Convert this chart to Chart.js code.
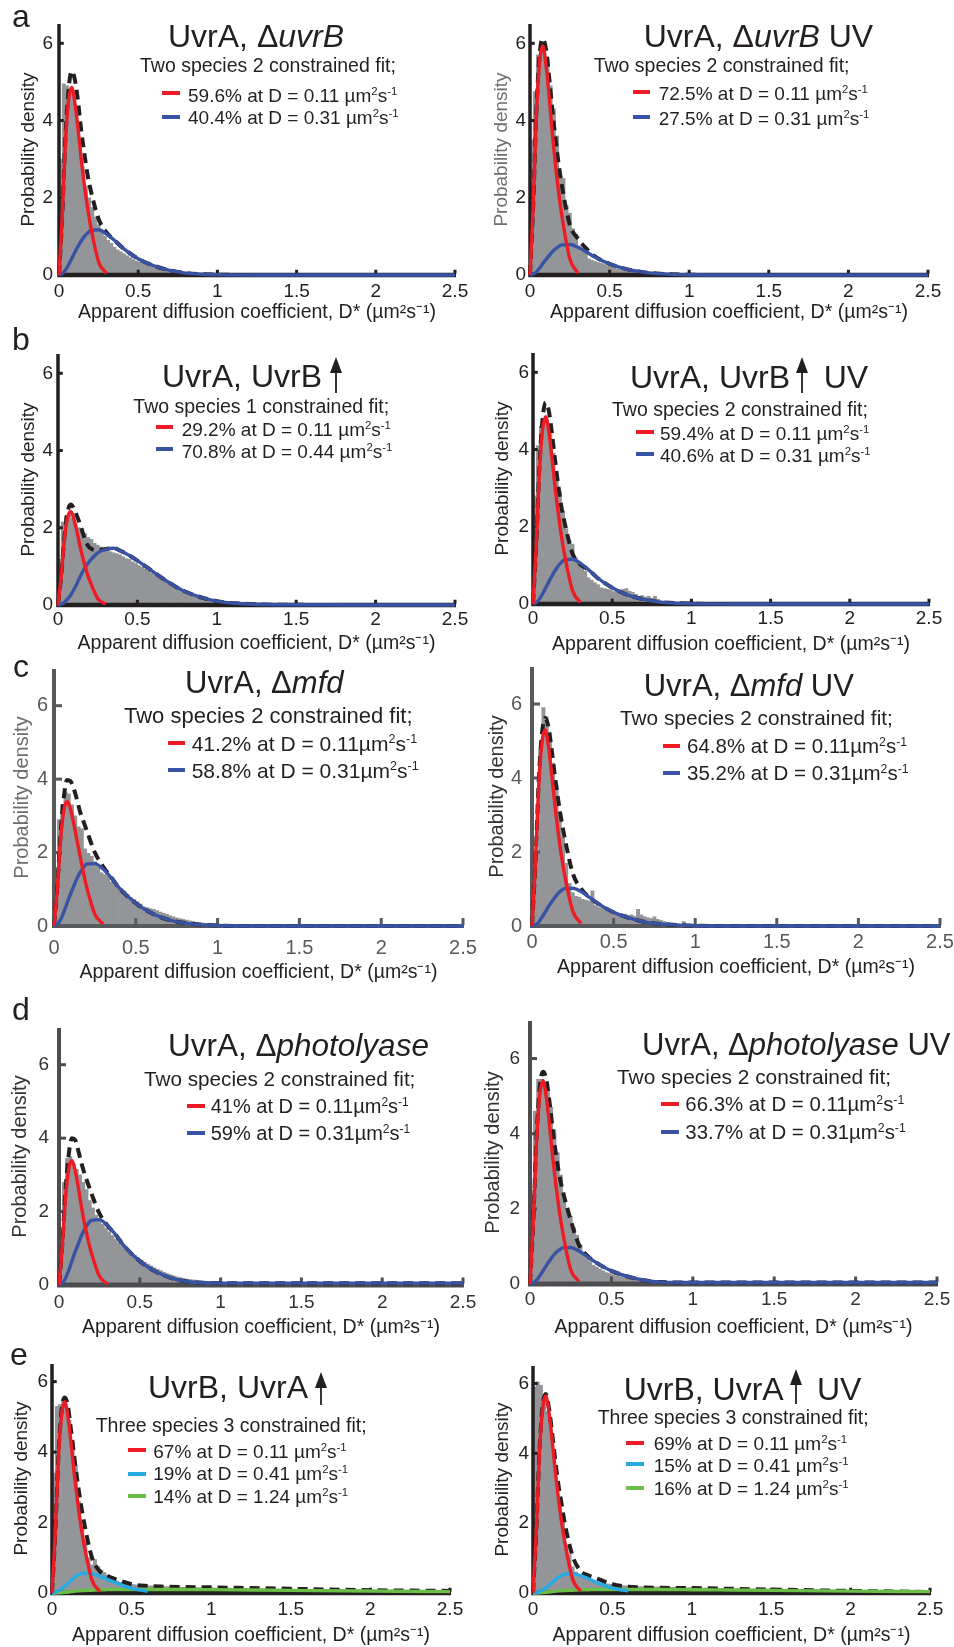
<!DOCTYPE html>
<html>
<head>
<meta charset="utf-8">
<script src="https://cdn.jsdelivr.net/npm/chart.js@4.4.1/dist/chart.umd.min.js"></script>
<style>
  body { margin: 0; background: #fff; width: 954px; height: 1647px; position: relative; overflow: hidden;
         font-family: 'Liberation Sans', Arial, Helvetica, sans-serif; color: #231f20; }
  canvas { position: absolute; }
  .t { position: absolute; white-space: nowrap; line-height: 1; }
  .t sup { font-size: 0.6em; vertical-align: 0.6em; line-height: 0; }
  .key { position: absolute; height: 4px; }
  svg.arrow { position: absolute; }
</style>
</head>
<body>
<script>
// ---- data ----
const binWidth = 0.02;
const curveX = [0, 0.02, 0.04, 0.06, 0.08, 0.1, 0.12, 0.14, 0.16, 0.18, 0.2, 0.25, 0.3, 0.35, 0.4, 0.5, 0.6, 0.7, 0.8, 1.0, 1.25, 1.5, 2.0, 2.5];
const xTicks = [0, 0.5, 1, 1.5, 2, 2.5];
const yTicks = [0, 2, 4, 6];

// a, UvrA ΔuvrB
const aLeftHist = [3.0, 4.95, 4.9, 4.85, 4.6, 4.0, 3.3, 2.8, 2.3, 2.0, 1.75, 1.5, 1.3, 1.15, 1.0, 0.9, 0.82, 0.72, 0.65, 0.6, 0.55, 0.5, 0.45, 0.4, 0.36, 0.33, 0.3, 0.27, 0.24, 0.22, 0.19, 0.17, 0.15, 0.13, 0.11, 0.1, 0.09, 0.08, 0.07, 0.06, 0.05, 0.045, 0.04, 0.035, 0.03, 0.025, 0.02, 0.02, 0.018, 0.015, 0.012, 0.01, 0.01, 0.008, 0.006, 0.005];
const aLeftRed = [0, 1.46, 3.4, 4.52, 4.86, 4.47, 3.79, 3.01, 2.33, 1.75, 1.26, 0.34, 0.04];
const aLeftBlue = [0, 0.035, 0.12, 0.26, 0.42, 0.59, 0.74, 0.88, 1.0, 1.09, 1.15, 1.17, 1.06, 0.9, 0.71, 0.42, 0.24, 0.12, 0.05, 0.01, 0, 0, 0, 0];
const aLeftFit = [0, 1.5, 3.52, 4.78, 5.28, 5.06, 4.5, 3.75, 3.15, 2.6, 2.2, 1.45, 1.1, 0.9, 0.71, 0.42, 0.24, 0.12, 0.05, 0.01, 0, 0, 0, 0];

// a, UvrA ΔuvrB UV
const aRightHist = [3.5, 4.75, 5.7, 5.9, 6.0, 5.6, 4.9, 4.3, 3.6, 2.6, 2.5, 1.8, 1.6, 1.2, 1.05, 0.75, 0.7, 0.6, 0.42, 0.38, 0.35, 0.32, 0.3, 0.27, 0.24, 0.21, 0.18, 0.16, 0.14, 0.12, 0.1, 0.09, 0.08, 0.07, 0.06, 0.05, 0.045, 0.04, 0.035, 0.03, 0.025, 0.02, 0.02, 0.015, 0.015, 0.01, 0.01, 0.01, 0.008, 0.006];
const aRightRed = [0, 1.78, 4.15, 5.51, 5.93, 5.46, 4.63, 3.68, 2.85, 2.13, 1.54, 0.42, 0.05];
const aRightBlue = [0, 0.024, 0.08, 0.18, 0.29, 0.4, 0.5, 0.6, 0.68, 0.74, 0.78, 0.79, 0.72, 0.61, 0.48, 0.29, 0.16, 0.08, 0.036, 0.006, 0, 0, 0, 0];
const aRightFit = [0, 1.8, 4.23, 5.69, 6.12, 5.86, 5.13, 4.28, 3.53, 2.87, 2.32, 1.3, 0.95, 0.7, 0.5, 0.29, 0.16, 0.08, 0.036, 0.006, 0, 0, 0, 0];

// b, UvrA UvrB up
const bLeftHist = [1.2, 2.15, 2.3, 2.35, 2.25, 2.1, 2.0, 1.95, 1.85, 1.75, 1.7, 1.6, 1.55, 1.5, 1.45, 1.4, 1.38, 1.35, 1.33, 1.3, 1.25, 1.2, 1.18, 1.12, 1.08, 1.02, 0.98, 0.93, 0.88, 0.82, 0.78, 0.72, 0.68, 0.62, 0.57, 0.52, 0.47, 0.42, 0.38, 0.34, 0.3, 0.26, 0.23, 0.2, 0.17, 0.15, 0.13, 0.11, 0.1, 0.085, 0.07, 0.06, 0.05, 0.045, 0.04, 0.035, 0.03, 0.025, 0.02, 0.02, 0.015, 0.015, 0.01, 0.01, 0.01];
const bLeftRed = [0, 0.73, 1.69, 2.25, 2.42, 2.23, 1.89, 1.5, 1.16, 0.87, 0.63, 0.17, 0.02];
const bLeftBlue = [0, 0.02, 0.07, 0.15, 0.26, 0.4, 0.56, 0.74, 0.9, 1.03, 1.14, 1.35, 1.44, 1.47, 1.39, 1.15, 0.86, 0.58, 0.35, 0.1, 0.02, 0.005, 0, 0];
const bLeftFit = [0, 0.75, 1.75, 2.4, 2.6, 2.5, 2.3, 2.08, 1.82, 1.6, 1.48, 1.42, 1.45, 1.47, 1.39, 1.15, 0.86, 0.58, 0.35, 0.1, 0.02, 0.005, 0, 0];

// b, UvrA UvrB up UV
const bRightHist = [2.8, 4.1, 4.6, 4.75, 4.7, 4.4, 3.9, 3.3, 2.9, 2.4, 1.95, 1.65, 1.55, 1.2, 1.1, 0.92, 0.85, 0.68, 0.62, 0.55, 0.5, 0.42, 0.4, 0.38, 0.36, 0.32, 0.35, 0.3, 0.38, 0.4, 0.33, 0.3, 0.25, 0.2, 0.22, 0.18, 0.2, 0.15, 0.2, 0.12, 0.08, 0.06, 0.07, 0.05, 0.04, 0.03, 0.05, 0.03, 0.02, 0.03, 0.05, 0.02, 0.01, 0.02, 0.01, 0.01];
const bRightRed = [0, 1.46, 3.4, 4.51, 4.85, 4.46, 3.78, 3.0, 2.33, 1.75, 1.26, 0.34, 0.04];
const bRightBlue = [0, 0.035, 0.12, 0.26, 0.42, 0.58, 0.73, 0.87, 0.99, 1.08, 1.14, 1.16, 1.05, 0.89, 0.7, 0.42, 0.23, 0.12, 0.05, 0.01, 0, 0, 0, 0];
const bRightFit = [0, 1.5, 3.52, 4.77, 5.22, 5.0, 4.4, 3.7, 3.05, 2.5, 2.1, 1.3, 1.02, 0.89, 0.7, 0.42, 0.23, 0.12, 0.05, 0.01, 0, 0, 0, 0];

// c, UvrA Δmfd
const cLeftHist = [1.6, 2.9, 3.3, 3.65, 3.6, 3.3, 3.0, 2.7, 2.65, 2.1, 1.98, 1.9, 1.75, 1.6, 1.45, 1.4, 1.35, 1.2, 1.12, 1.08, 1.02, 0.95, 0.85, 0.78, 0.72, 0.66, 0.6, 0.52, 0.5, 0.47, 0.45, 0.42, 0.38, 0.35, 0.32, 0.28, 0.25, 0.22, 0.2, 0.18, 0.16, 0.14, 0.12, 0.1, 0.09, 0.08, 0.07, 0.06, 0.05, 0.04, 0.035, 0.03, 0.025, 0.02, 0.02, 0.015, 0.01, 0.01];
const cLeftRed = [0, 1.0, 2.35, 3.15, 3.39, 3.2, 2.8, 2.35, 1.9, 1.45, 1.05, 0.32, 0.05];
const cLeftBlue = [0, 0.05, 0.17, 0.38, 0.62, 0.86, 1.08, 1.29, 1.46, 1.6, 1.69, 1.7, 1.55, 1.31, 1.03, 0.62, 0.34, 0.17, 0.08, 0.014, 0, 0, 0, 0];
const cLeftFit = [0, 1.05, 2.5, 3.5, 3.98, 3.95, 3.75, 3.45, 3.1, 2.85, 2.6, 2.0, 1.62, 1.32, 1.03, 0.62, 0.34, 0.17, 0.08, 0.014, 0, 0, 0, 0];

// c, UvrA Δmfd UV
const cRightHist = [0.6, 2.0, 4.75, 5.9, 5.65, 5.1, 4.4, 3.8, 3.1, 2.4, 1.7, 1.15, 0.9, 0.8, 0.78, 0.72, 0.7, 0.68, 0.95, 0.55, 0.5, 0.48, 0.45, 0.42, 0.38, 0.36, 0.34, 0.3, 0.32, 0.28, 0.3, 0.26, 0.45, 0.3, 0.25, 0.22, 0.2, 0.25, 0.18, 0.15, 0.12, 0.1, 0.08, 0.06, 0.05, 0.04, 0.12, 0.03, 0.02, 0.02, 0.01, 0.02, 0.01, 0.01];
const cRightRed = [0, 1.59, 3.71, 4.93, 5.3, 4.88, 4.13, 3.29, 2.54, 1.91, 1.38, 0.4, 0.07];
const cRightBlue = [0, 0.03, 0.1, 0.23, 0.37, 0.52, 0.65, 0.77, 0.88, 0.96, 1.01, 1.02, 0.93, 0.78, 0.62, 0.37, 0.21, 0.1, 0.05, 0.008, 0, 0, 0, 0];
const cRightFit = [0, 1.62, 3.81, 5.16, 5.62, 5.4, 4.78, 4.06, 3.42, 2.87, 2.39, 1.42, 1.01, 0.78, 0.62, 0.37, 0.21, 0.1, 0.05, 0.008, 0, 0, 0, 0];

// d, UvrA Δphotolyase
const dLeftHist = [1.3, 2.8, 3.45, 3.5, 3.3, 3.15, 3.0, 2.8, 2.6, 2.3, 2.1, 1.9, 1.8, 1.65, 1.55, 1.45, 1.35, 1.25, 1.15, 1.08, 1.0, 0.93, 0.86, 0.8, 0.74, 0.68, 0.62, 0.57, 0.52, 0.47, 0.43, 0.39, 0.35, 0.31, 0.28, 0.25, 0.22, 0.2, 0.18, 0.16, 0.15, 0.14, 0.13, 0.12, 0.11, 0.1, 0.1, 0.09, 0.09, 0.08, 0.08, 0.07, 0.07, 0.07, 0.06, 0.06, 0.06, 0.05, 0.05, 0.05, 0.05, 0.04, 0.04, 0.04, 0.04, 0.04, 0.03, 0.03, 0.03, 0.03, 0.03, 0.03, 0.03, 0.03, 0.03];
const dLeftRed = [0, 1.02, 2.37, 3.15, 3.39, 3.12, 2.64, 2.1, 1.63, 1.22, 0.88, 0.24, 0.03];
const dLeftBlue = [0, 0.05, 0.18, 0.4, 0.65, 0.9, 1.13, 1.35, 1.53, 1.67, 1.76, 1.78, 1.62, 1.37, 1.08, 0.65, 0.36, 0.18, 0.09, 0.05, 0.05, 0.05, 0.05, 0.05];
const dLeftFit = [0, 1.07, 2.55, 3.55, 4.0, 3.95, 3.65, 3.3, 3.0, 2.75, 2.5, 1.95, 1.62, 1.37, 1.08, 0.65, 0.36, 0.18, 0.09, 0.05, 0.05, 0.05, 0.05, 0.05];

// d, UvrA Δphotolyase UV
const dRightHist = [2.5, 4.6, 5.45, 5.45, 5.3, 5.1, 4.7, 4.1, 3.5, 2.9, 2.3, 2.0, 1.8, 1.5, 1.3, 1.05, 0.85, 0.75, 0.6, 0.5, 0.45, 0.4, 0.35, 0.3, 0.28, 0.25, 0.22, 0.2, 0.18, 0.16, 0.14, 0.12, 0.11, 0.1, 0.09, 0.08, 0.07, 0.06, 0.05, 0.05, 0.04, 0.04, 0.03, 0.03, 0.02, 0.02, 0.02, 0.01, 0.01, 0.01];
const dRightRed = [0, 1.62, 3.79, 5.03, 5.41, 4.98, 4.22, 3.35, 2.6, 1.95, 1.41, 0.38, 0.07];
const dRightBlue = [0, 0.03, 0.1, 0.22, 0.35, 0.49, 0.62, 0.74, 0.84, 0.91, 0.96, 0.97, 0.88, 0.74, 0.59, 0.35, 0.2, 0.1, 0.05, 0.04, 0.04, 0.04, 0.04, 0.04];
const dRightFit = [0, 1.65, 3.89, 5.25, 5.65, 5.45, 4.84, 4.09, 3.44, 2.9, 2.5, 1.7, 1.05, 0.76, 0.59, 0.35, 0.2, 0.1, 0.05, 0.04, 0.04, 0.04, 0.04, 0.04];

// e, UvrB UvrA up
const eLeftHist = [3.4, 5.3, 5.35, 5.45, 5.3, 4.9, 4.3, 3.6, 2.6, 1.9, 1.5, 1.0, 0.8, 0.95, 0.75, 0.65, 0.58, 0.5, 0.42, 0.38, 0.34, 0.3, 0.28, 0.27, 0.26,
  0.24, 0.23, 0.22, 0.22, 0.21, 0.2, 0.2, 0.19, 0.19, 0.18, 0.18, 0.18, 0.17, 0.17, 0.17, 0.16, 0.16, 0.16, 0.16, 0.15, 0.15, 0.15, 0.15, 0.15, 0.15,
  0.14, 0.14, 0.14, 0.14, 0.14, 0.14, 0.13, 0.13, 0.13, 0.13, 0.13, 0.13, 0.12, 0.12, 0.12, 0.12, 0.12, 0.12, 0.11, 0.11, 0.11, 0.11, 0.11, 0.11, 0.11,
  0.1, 0.1, 0.1, 0.1, 0.1, 0.1, 0.1, 0.1, 0.09, 0.09, 0.09, 0.09, 0.09, 0.09, 0.09, 0.09, 0.08, 0.08, 0.08, 0.08, 0.08, 0.08, 0.08, 0.08, 0.08,
  0.07, 0.07, 0.07, 0.07, 0.07, 0.07, 0.07, 0.07, 0.07, 0.07, 0.07, 0.06, 0.06, 0.06, 0.06, 0.06, 0.06, 0.06, 0.06, 0.06, 0.06, 0.05, 0.05, 0.05, 0.05];
const eLeftRed = [0, 1.63, 3.8, 5.05, 5.43, 5.0, 4.24, 3.37, 2.61, 1.95, 1.41, 0.38, 0.04];
const eLeftCyan = [0, 0.02, 0.06, 0.12, 0.19, 0.27, 0.36, 0.44, 0.5, 0.54, 0.56, 0.55, 0.48, 0.38, 0.29, 0.13, 0.05];
const eLeftGreen = [0, 0, 0.005, 0.01, 0.02, 0.03, 0.04, 0.05, 0.06, 0.065, 0.07, 0.08, 0.09, 0.095, 0.1, 0.1, 0.1, 0.1, 0.1, 0.095, 0.085, 0.075, 0.055, 0.04];
const eLeftFit = [0, 1.65, 3.87, 5.18, 5.55, 5.3, 4.6, 3.86, 3.17, 2.56, 2.04, 1.02, 0.62, 0.48, 0.39, 0.25, 0.2, 0.18, 0.17, 0.16, 0.14, 0.12, 0.08, 0.06];

// e, UvrB UvrA up UV
const eRightHist = [5.9, 6.05, 5.95, 5.6, 5.2, 4.95, 4.0, 3.0, 2.6, 2.1, 1.35, 1.1, 0.75, 0.6, 0.5, 0.46, 0.42, 0.38, 0.35, 0.32, 0.3, 0.28, 0.27, 0.26, 0.25,
  0.24, 0.23, 0.22, 0.21, 0.2, 0.19, 0.19, 0.18, 0.18, 0.18, 0.17, 0.17, 0.17, 0.17, 0.17, 0.17, 0.16, 0.16, 0.16, 0.16, 0.16, 0.15, 0.15, 0.15, 0.15,
  0.15, 0.15, 0.14, 0.14, 0.14, 0.14, 0.14, 0.13, 0.13, 0.13, 0.13, 0.13, 0.12, 0.12, 0.12, 0.12, 0.12, 0.11, 0.11, 0.11, 0.11, 0.11, 0.1, 0.1, 0.1,
  0.1, 0.1, 0.1, 0.09, 0.09, 0.09, 0.09, 0.09, 0.09, 0.09, 0.08, 0.08, 0.08, 0.08, 0.08, 0.08, 0.07, 0.07, 0.07, 0.07, 0.07, 0.07, 0.07, 0.07, 0.07,
  0.06, 0.06, 0.06, 0.06, 0.06, 0.06, 0.06, 0.05, 0.05, 0.05, 0.05, 0.05, 0.05, 0.05, 0.05, 0.05, 0.05, 0.04, 0.04, 0.04, 0.04, 0.04, 0.04, 0.04, 0.04];
const eRightRed = [0, 1.69, 3.95, 5.25, 5.64, 5.19, 4.4, 3.5, 2.71, 2.03, 1.47, 0.39, 0.05];
const eRightCyan = [0, 0.01, 0.04, 0.09, 0.15, 0.22, 0.3, 0.38, 0.45, 0.5, 0.54, 0.55, 0.5, 0.41, 0.3, 0.14, 0.06];
const eRightGreen = [0, 0, 0.005, 0.01, 0.02, 0.03, 0.04, 0.05, 0.06, 0.065, 0.07, 0.08, 0.09, 0.095, 0.1, 0.1, 0.1, 0.1, 0.1, 0.095, 0.085, 0.075, 0.055, 0.04];
const eRightFit = [0, 1.7, 4.0, 5.35, 5.7, 5.3, 4.6, 3.8, 3.1, 2.55, 2.0, 1.05, 0.63, 0.5, 0.42, 0.25, 0.18, 0.16, 0.15, 0.14, 0.12, 0.1, 0.06, 0.03];

// ---- styling ----
const FONT = "'Liberation Sans', Arial, Helvetica, sans-serif";
const INK = '#231f20', MID = '#6d6e71';
const RED = '#ed1c24', BLUE = '#3953a4', CYAN = '#27aae1', GREEN = '#6abd45', BAR = '#939598';
const X_TITLE = 'Apparent diffusion coefficient, D* (\u00b5m\u00b2s\u207b\u00b9)';

const styleA = { axis: INK, tickColor: INK, xAxisW: 4.5, yAxisW: 3.5, tickLen: 3, tickSize: 19, yTitleSize: 19 };
const styleC = { axis: '#58595b', tickColor: '#58595b', xAxisW: 4, yAxisW: 4, tickLen: 6, tickSize: 20, yTitleSize: 20 };
const styleD = { axis: '#4d4d4f', tickColor: '#333333', xAxisW: 5, yAxisW: 4, tickLen: 5, tickSize: 19, yTitleSize: 20 };

const panels = [
  { hist: aLeftHist, lines: [[aLeftRed, RED], [aLeftBlue, BLUE]], fit: aLeftFit, x0: 59, x1: 455, yb: 275, yt: 24, yMax: 6.5,
    yTitleOff: 31, xTitleOff: 37, xTickOff: 17, yTickPad: 6, yTitleColor: INK, style: styleA },
  { hist: aRightHist, lines: [[aRightRed, RED], [aRightBlue, BLUE]], fit: aRightFit, x0: 530, x1: 928, yb: 275, yt: 24, yMax: 6.5,
    yTitleOff: 29, xTitleOff: 37, xTickOff: 17, yTickPad: 4, yTitleColor: MID, style: styleA },
  { hist: bLeftHist, lines: [[bLeftRed, RED], [bLeftBlue, BLUE]], fit: bLeftFit, x0: 58, x1: 455, yb: 605, yt: 354, yMax: 6.5,
    yTitleOff: 30, xTitleOff: 38, xTickOff: 15, yTickPad: 5, yTitleColor: INK, style: styleA },
  { hist: bRightHist, lines: [[bRightRed, RED], [bRightBlue, BLUE]], fit: bRightFit, x0: 533, x1: 929, yb: 604, yt: 353, yMax: 6.5,
    yTitleOff: 31, xTitleOff: 40, xTickOff: 15, yTickPad: 4, yTitleColor: INK, style: styleA },
  { hist: cLeftHist, lines: [[cLeftRed, RED], [cLeftBlue, BLUE]], fit: cLeftFit, x0: 54, x1: 463, yb: 926, yt: 669, yMax: 7,
    yTitleOff: 32, xTitleOff: 46, xTickOff: 22, yTickPad: 6, yTitleColor: MID, style: styleC },
  { hist: cRightHist, lines: [[cRightRed, RED], [cRightBlue, BLUE]], fit: cRightFit, x0: 532, x1: 940, yb: 926, yt: 667, yMax: 7,
    yTitleOff: 35, xTitleOff: 41, xTickOff: 16, yTickPad: 10, yTitleColor: '#333333', style: styleC },
  { hist: dLeftHist, lines: [[dLeftRed, RED], [dLeftBlue, BLUE]], fit: dLeftFit, x0: 59, x1: 463, yb: 1285, yt: 1028, yMax: 7,
    yTitleOff: 39, xTitleOff: 42, xTickOff: 18, yTickPad: 10, yTitleColor: '#333333', style: styleD },
  { hist: dRightHist, lines: [[dRightRed, RED], [dRightBlue, BLUE]], fit: dRightFit, x0: 530, x1: 937, yb: 1284, yt: 1021, yMax: 7,
    yTitleOff: 37, xTitleOff: 43, xTickOff: 16, yTickPad: 10, yTitleColor: '#333333', style: styleD },
  { hist: eLeftHist, lines: [[eLeftRed, RED], [eLeftCyan, CYAN], [eLeftGreen, GREEN]], fit: eLeftFit, x0: 52, x1: 450, yb: 1593, yt: 1364, yMax: 6.5,
    yTitleOff: 31, xTitleOff: 42, xTickOff: 17, yTickPad: 4, yTitleColor: INK, style: styleA },
  { hist: eRightHist, lines: [[eRightRed, RED], [eRightCyan, CYAN], [eRightGreen, GREEN]], fit: eRightFit, x0: 533, x1: 930, yb: 1593, yt: 1366, yMax: 6.5,
    yTitleOff: 31, xTitleOff: 42, xTickOff: 17, yTickPad: 4, yTitleColor: INK, style: styleA }
];

// axis lines + inward tick marks, redrawn right after the bars so the bars don't eat into them
function axisPlugin(s) {
  return {
    id: 'axes',
    afterDatasetDraw(chart, args) {
      if (args.meta.type !== 'bar') return;
      const ctx = chart.ctx, a = chart.chartArea;
      const xs = chart.scales.x, ys = chart.scales.y;
      ctx.save();
      ctx.fillStyle = s.axis;
      ctx.fillRect(a.left - s.yAxisW / 2, a.bottom - s.xAxisW / 2, a.right - a.left + s.yAxisW / 2 + 1, s.xAxisW);
      ctx.fillRect(a.left - s.yAxisW / 2, a.top, s.yAxisW, a.bottom - a.top);
      xTicks.forEach(v => {
        const px = xs.getPixelForValue(v);
        ctx.fillRect(px - 1.5, a.bottom - s.xAxisW / 2 - s.tickLen, 3, s.tickLen + 1);
      });
      yTicks.forEach(v => {
        const py = ys.getPixelForValue(v);
        ctx.fillRect(a.left, py - 1.5, s.yAxisW / 2 + s.tickLen, 3);
      });
      ctx.restore();
    }
  };
}

function buildPanel(p) {
  const s = p.style;
  const W = Math.round(p.yTitleOff + s.yTitleSize * 0.6);
  const H = Math.round(p.xTitleOff + 19.5 * 0.6);
  const padL = 6, padT = 14, padR = 26, padB = 6;
  const cw = p.x1 - p.x0 + W + padL + padR;
  const ch = p.yb - p.yt + H + padT + padB;
  const cv = document.createElement('canvas');
  cv.width = cw; cv.height = ch;
  cv.style.left = (p.x0 - W - padL) + 'px';
  cv.style.top = (p.yt - padT) + 'px';
  document.body.appendChild(cv);

  const datasets = [];
  p.lines.forEach(([vals, color], k) => {
    datasets.push({
      type: 'line', data: vals.map((y, i) => ({ x: curveX[i], y })),
      borderColor: color, borderWidth: 3.4, pointRadius: 0, fill: false,
      cubicInterpolationMode: 'monotone', clip: false, order: k + 1
    });
  });
  datasets.push({
    type: 'line', data: p.fit.map((y, i) => ({ x: curveX[i], y })),
    borderColor: INK, borderWidth: 4, borderDash: [10, 6], pointRadius: 0, fill: false,
    cubicInterpolationMode: 'monotone', clip: false, order: 8
  });
  datasets.push({
    type: 'bar', data: p.hist.map((v, i) => ({ x: (i + 0.5) * binWidth, y: v })),
    backgroundColor: BAR, borderWidth: 0, barPercentage: 1, categoryPercentage: 1, order: 10
  });

  new Chart(cv.getContext('2d'), {
    type: 'bar',
    data: { datasets },
    options: {
      responsive: false,
      animation: false,
      events: [],
      layout: { padding: { left: padL, top: padT, right: padR, bottom: padB } },
      plugins: { legend: { display: false }, tooltip: { enabled: false } },
      scales: {
        x: {
          type: 'linear', min: 0, max: 2.5, offset: false,
          grid: { display: false, drawTicks: false }, border: { display: false },
          afterBuildTicks: sc => { sc.ticks = xTicks.map(v => ({ value: v })); },
          afterFit: sc => { sc.height = H; sc.paddingLeft = 0; sc.paddingRight = 0; },
          ticks: {
            padding: p.xTickOff - s.tickSize * 0.6, color: s.tickColor, maxRotation: 0, autoSkip: false,
            font: { family: FONT, size: s.tickSize }, callback: v => String(v)
          },
          title: { display: true, text: X_TITLE, color: INK, padding: 0, font: { family: FONT, size: 19.5 } }
        },
        y: {
          type: 'linear', min: 0, max: p.yMax,
          grid: { display: false, drawTicks: false }, border: { display: false },
          afterBuildTicks: sc => { sc.ticks = yTicks.map(v => ({ value: v })); },
          afterFit: sc => { sc.width = W; sc.paddingTop = 0; sc.paddingBottom = 0; },
          ticks: {
            padding: p.yTickPad, color: s.tickColor, autoSkip: false,
            font: { family: FONT, size: s.tickSize }, callback: v => String(v)
          },
          title: { display: true, text: 'Probability density', color: p.yTitleColor, padding: 0, font: { family: FONT, size: s.yTitleSize } }
        }
      }
    },
    plugins: [axisPlugin(s)]
  });
}

panels.forEach(buildPanel);

// ---- titles, legends, panel letters ----
function addText(html, left, baseline, size) {
  const d = document.createElement('div');
  d.className = 't';
  d.style.left = left + 'px';
  d.style.top = (baseline - 0.85 * size) + 'px';
  d.style.fontSize = size + 'px';
  d.innerHTML = html;
  document.body.appendChild(d);
}
function addKey(color, x1, x2, y) {
  const d = document.createElement('div');
  d.className = 'key';
  d.style.left = x1 + 'px';
  d.style.width = (x2 - x1) + 'px';
  d.style.top = (y - 2) + 'px';
  d.style.background = color;
  document.body.appendChild(d);
}
function addArrow(xc, yTop, yBottom) {
  const h = yBottom - yTop;
  const ns = 'http://www.w3.org/2000/svg';
  const svg = document.createElementNS(ns, 'svg');
  svg.setAttribute('class', 'arrow');
  svg.setAttribute('width', 14);
  svg.setAttribute('height', h);
  svg.style.left = (xc - 7) + 'px';
  svg.style.top = yTop + 'px';
  svg.innerHTML = '<polygon points="7,0 13,16 1,16" fill="' + INK + '"/><rect x="6.1" y="14" width="1.8" height="' + (h - 14) + '" fill="' + INK + '"/>';
  document.body.appendChild(svg);
}
const unitSp = ' \u00b5m<sup>2</sup>s<sup>-1</sup>';
const unitNo = '\u00b5m<sup>2</sup>s<sup>-1</sup>';

// panel letters
addText('a', 12, 26.7, 32);
addText('b', 12, 350, 32);
addText('c', 13, 676.7, 32);
addText('d', 12, 1020, 32);
addText('e', 10, 1365, 32);

// a
addText('UvrA, \u0394<i>uvrB</i>', 168, 47.3, 32);
addText('Two species 2 constrained fit;', 140, 72.7, 19.5);
addKey(RED, 162, 180, 93.3); addText('59.6% at D = 0.11' + unitSp, 188, 101.7, 19);
addKey(BLUE, 162, 180, 116.7); addText('40.4% at D = 0.31' + unitSp, 188, 124, 19);

addText('UvrA, \u0394<i>uvrB</i> UV', 643.7, 47, 32);
addText('Two species 2 constrained fit;', 593.7, 73, 19.5);
addKey(RED, 633, 650, 91.7); addText('72.5% at D = 0.11' + unitSp, 658.7, 100, 19);
addKey(BLUE, 633, 650, 117.3); addText('27.5% at D = 0.31' + unitSp, 658.7, 125, 19);

// b
addText('UvrA, UvrB', 162, 387.3, 32); addArrow(335.7, 357, 393);
addText('Two species 1 constrained fit;', 133.3, 413.3, 19.5);
addKey(RED, 156, 173, 426.7); addText('29.2% at D = 0.11' + unitSp, 181.7, 436, 19);
addKey(BLUE, 156, 173, 449.3); addText('70.8% at D = 0.44' + unitSp, 181.7, 458.3, 19);

addText('UvrA, UvrB', 630, 388.3, 32); addArrow(802, 357, 393); addText('UV', 823.7, 388.3, 32);
addText('Two species 2 constrained fit;', 612, 416.7, 19.5);
addKey(RED, 636, 653.7, 431.7); addText('59.4% at D = 0.11' + unitSp, 660, 440, 19);
addKey(BLUE, 636, 653.7, 454); addText('40.6% at D = 0.31' + unitSp, 660, 462, 19);

// c
addText('UvrA, \u0394<i>mfd</i>', 185, 693.3, 31);
addText('Two species 2 constrained fit;', 124, 723.3, 22);
addKey(RED, 167.7, 185, 743.3); addText('41.2% at D = 0.11' + unitNo, 191.7, 750.7, 21);
addKey(BLUE, 167.7, 185, 770); addText('58.8% at D = 0.31' + unitNo, 191.7, 777.7, 21);

addText('UvrA, \u0394<i>mfd</i> UV', 643.7, 696.7, 31);
addText('Two species 2 constrained fit;', 620, 726, 20.8);
addKey(RED, 663, 680, 746); addText('64.8% at D = 0.11' + unitNo, 687, 753, 20.5);
addKey(BLUE, 663, 680, 772.7); addText('35.2% at D = 0.31' + unitNo, 687, 780, 20.5);

// d
addText('UvrA, \u0394<i>photolyase</i>', 168, 1056.7, 31.5);
addText('Two species 2 constrained fit;', 144, 1086.7, 20.7);
addKey(RED, 187, 205, 1106); addText('41% at D = 0.11' + unitNo, 210.7, 1113, 20);
addKey(BLUE, 187, 205, 1133.3); addText('59% at D = 0.31' + unitNo, 210.7, 1140, 20);

addText('UvrA, \u0394<i>photolyase</i> UV', 642, 1055, 31);
addText('Two species 2 constrained fit;', 617, 1084.3, 20.9);
addKey(RED, 661, 678.7, 1104.3); addText('66.3% at D = 0.11' + unitNo, 685.3, 1111.7, 20.4);
addKey(BLUE, 661, 678.7, 1131.7); addText('33.7% at D = 0.31' + unitNo, 685.3, 1139, 20.4);

// e
addText('UvrB, UvrA', 148, 1398, 32); addArrow(320.7, 1372, 1405);
addText('Three species 3 constrained fit;', 95.7, 1433, 19.5);
addKey(RED, 128, 145.7, 1450.3); addText('67% at D = 0.11' + unitSp, 153.3, 1457.7, 19);
addKey(CYAN, 128, 145.7, 1473.7); addText('19% at D = 0.41' + unitSp, 153.3, 1480.3, 19);
addKey(GREEN, 128, 145.7, 1496); addText('14% at D = 1.24' + unitSp, 153.3, 1502.7, 19);

addText('UvrB, UvrA', 623.7, 1399.7, 32); addArrow(796, 1369, 1404); addText('UV', 817, 1399.7, 32);
addText('Three species 3 constrained fit;', 597.7, 1424.3, 19.5);
addKey(RED, 626, 643.7, 1443); addText('69% at D = 0.11' + unitSp, 653.7, 1449.7, 19);
addKey(CYAN, 626, 643.7, 1464.3); addText('15% at D = 0.41' + unitSp, 653.7, 1472, 19);
addKey(GREEN, 626, 643.7, 1487.7); addText('16% at D = 1.24' + unitSp, 653.7, 1495.3, 19);
</script>
</body>
</html>
